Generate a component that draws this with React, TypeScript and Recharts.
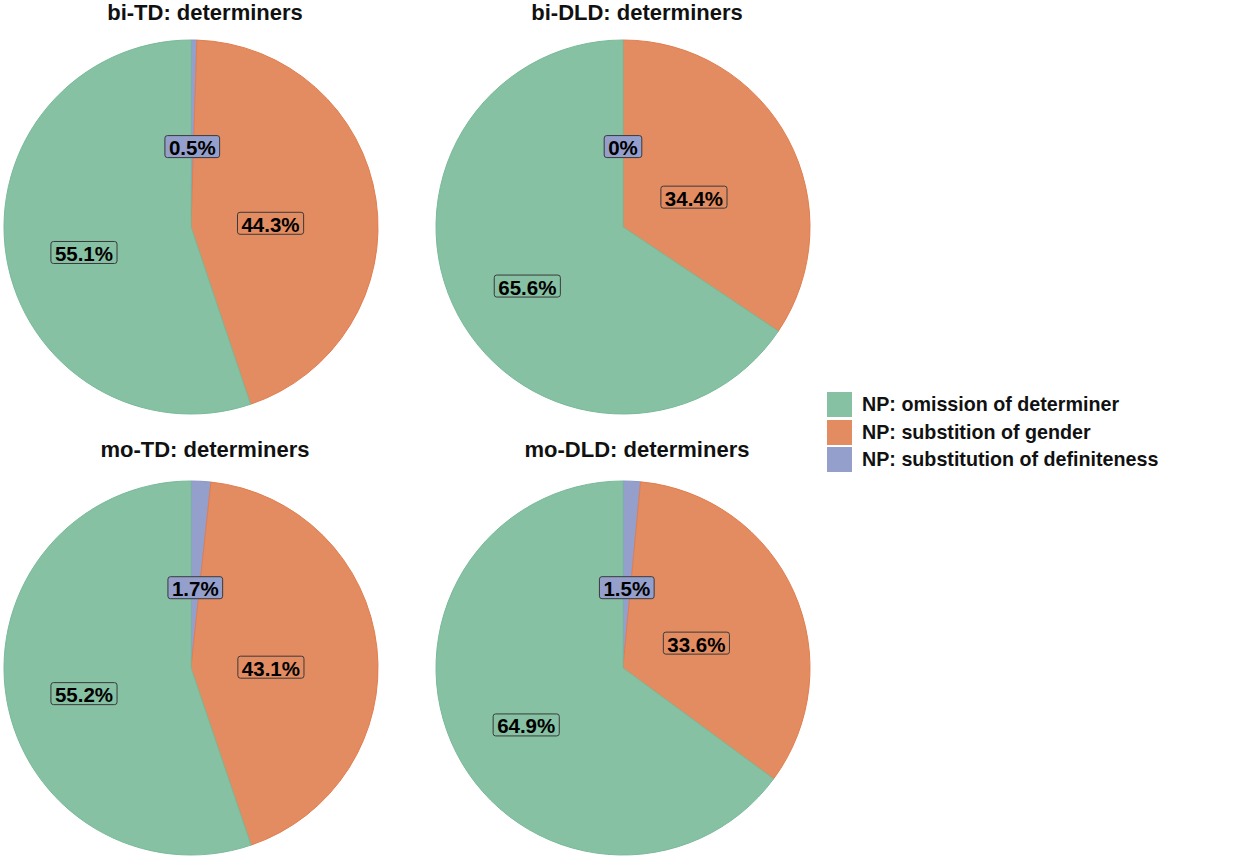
import React from "react";
import { PieChart, Pie, Cell } from "recharts";

// legend order (top to bottom)
const categories = [
  "NP: omission of determiner",
  "NP: substition of gender",
  "NP: substitution of definiteness",
];
const fills = ["#86C1A4", "#E38C62", "#959FCB"];
const strokes = ["#78BA98", "#E27D4E", "#8A96C6"];

const panelTitles = [
  "bi-TD: determiners",
  "bi-DLD: determiners",
  "mo-TD: determiners",
  "mo-DLD: determiners",
];
const omissionValues = [55.1, 65.6, 55.2, 64.9];
const genderValues = [44.3, 34.4, 43.1, 33.6];
const definitenessValues = [0.5, 0, 1.7, 1.5];

const FONT = "'Liberation Sans', Arial, Helvetica, sans-serif";
const RAD = Math.PI / 180;
const LABEL_SIZE = 20.5;

// rough Arial bold advance widths for the label strings
function textWidth(s: string, size: number) {
  let w = 0;
  for (const ch of s) {
    if (ch === ".") w += 0.278;
    else if (ch === "%") w += 0.889;
    else w += 0.556;
  }
  return w * size;
}

function makeLabel(values: number[], colorIdx: number[]) {
  const maxV = Math.max(...values);
  return (props: any) => {
    const { cx, cy, midAngle, outerRadius, index } = props;
    const v = values[index];
    const small = v < 5;
    const frac = v === maxV ? 0.58 : 0.43;
    const r = outerRadius * frac;
    // labels sit a little lower than the slice midline, like the original
    const x = cx + r * Math.cos(-midAngle * RAD);
    const y = cy + r * Math.sin(-midAngle * RAD) + (small ? 0 : 8);
    const label = `${v}%`;
    const w = textWidth(label, LABEL_SIZE) + 8;
    const h = 22;
    return (
      <g key={`lab-${index}`}>
        <rect
          x={x - w / 2}
          y={y - h / 2}
          width={w}
          height={h}
          rx={2.5}
          fill={fills[colorIdx[index]]}
          stroke="#3a3a3a"
          strokeWidth={1}
        />
        <text
          x={x}
          y={y + 1}
          textAnchor="middle"
          dominantBaseline="central"
          fontFamily={FONT}
          fontWeight="bold"
          fontSize={LABEL_SIZE}
          fill="#000"
        >
          {label}
        </text>
      </g>
    );
  };
}

function DeterminerPie({ idx }: { idx: number }) {
  // clockwise from 12 o'clock: definiteness, gender, omission
  const colorIdx = [2, 1, 0];
  const data = colorIdx.map((c) => ({
    name: categories[c],
    value: [omissionValues, genderValues, definitenessValues][c][idx],
  }));
  const values = data.map((d) => d.value);
  const col = idx % 2;
  const row = Math.floor(idx / 2);
  return (
    <div
      style={{
        position: "absolute",
        left: col * 432,
        top: row * 441,
        width: 410,
        height: 430,
      }}
    >
      <div
        style={{
          position: "absolute",
          left: 0,
          width: 410,
          top: row === 0 ? 2 : -2,
          textAlign: "center",
          fontFamily: FONT,
          fontWeight: "bold",
          fontSize: 22,
          lineHeight: "22px",
          color: "#111",
        }}
      >
        {panelTitles[idx]}
      </div>
      <div style={{ position: "absolute", left: 0, top: 0 }}>
        <PieChart
          width={410}
          height={430}
          margin={{ top: 0, right: 0, bottom: 0, left: 0 }}
        >
          <Pie
            data={data}
            dataKey="value"
            nameKey="name"
            cx={191}
            cy={227}
            outerRadius={187}
            startAngle={90}
            endAngle={-270}
            isAnimationActive={false}
            labelLine={false}
            label={makeLabel(values, colorIdx)}
          >
            {data.map((d, i) => (
              <Cell
                key={d.name}
                fill={fills[colorIdx[i]]}
                stroke={strokes[colorIdx[i]]}
                strokeWidth={1}
              />
            ))}
          </Pie>
        </PieChart>
      </div>
    </div>
  );
}

export default function App() {
  return (
    <div
      style={{
        position: "fixed",
        left: 0,
        top: 0,
        width: 1248,
        height: 859,
        background: "#fff",
        overflow: "hidden",
      }}
    >
      {panelTitles.map((t, i) => (
        <DeterminerPie key={t} idx={i} />
      ))}
      <div style={{ position: "absolute", left: 827, top: 392 }}>
        {categories.map((c, i) => (
          <div
            key={c}
            style={{ display: "flex", alignItems: "flex-start", height: 27.5 }}
          >
            <div
              style={{
                width: 25,
                height: 25,
                background: fills[i],
                flex: "none",
              }}
            />
            <div
              style={{
                marginLeft: 10,
                fontFamily: FONT,
                fontWeight: "bold",
                fontSize: 19.7,
                lineHeight: "25px",
                color: "#111",
                whiteSpace: "nowrap",
              }}
            >
              {c}
            </div>
          </div>
        ))}
      </div>
    </div>
  );
}
